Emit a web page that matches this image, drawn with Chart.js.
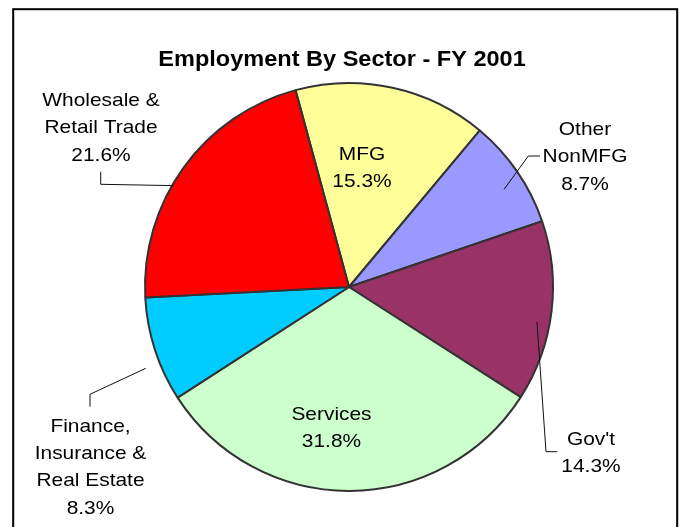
<!DOCTYPE html>
<html>
<head>
<meta charset="utf-8">
<title>Employment By Sector - FY 2001</title>
<script src="https://cdn.jsdelivr.net/npm/chart.js@4/dist/chart.umd.min.js"></script>
<style>
  html, body { margin: 0; padding: 0; background: #ffffff; }
  #wrap { width: 683px; height: 527px; }
</style>
</head>
<body>
<div id="wrap"><canvas id="chart" width="683" height="527"></canvas></div>
<script>
// Sector shares of employment, FY 2001 (percent)
const sectors = ["MFG", "Other NonMFG", "Gov't", "Services", "Finance, Insurance & Real Estate", "Wholesale & Retail Trade"];
const shares = [15.3, 8.7, 14.3, 31.8, 8.3, 21.6];
const sliceColors = ["#FFFF99", "#9999FF", "#993366", "#CCFFCC", "#00CCFF", "#FF0000"];

// How each sector's name is broken over lines in its label
const labelLines = [
  ["MFG"],
  ["Other", "NonMFG"],
  ["Gov't"],
  ["Services"],
  ["Finance,", "Insurance &", "Real Estate"],
  ["Wholesale &", "Retail Trade"]
];

// Label placement relative to the pie centre: first baseline offset,
// plus an optional leader (two label-side points, then a polar anchor on the slice)
const labelPlacement = [
  { dx: 13,     dy: -127 },
  { dx: 236,    dy: -152, leader: [[191, -131], [179.3, -131]], anchor: { deg: 57.8,  r: 0.898 } },
  { dx: 242,    dy: 158,  leader: [[208.3, 164.7], [197, 164.7]], anchor: { deg: 100.5, r: 0.937 } },
  { dx: -17.5,  dy: 133 },
  { dx: -258.5, dy: 144.7, leader: [[-259, 119.7], [-259, 107.3]], anchor: { deg: 248.2, r: 1.073 } },
  { dx: -248,   dy: -181, leader: [[-248.3, -115.3], [-248.3, -102.7]], anchor: { deg: 300.0, r: 0.994 } }
];

const TITLE = "Employment By Sector - FY 2001";
const FONT = '"Liberation Sans", Arial, Helvetica, sans-serif';
const STRETCH = 1.1;      // text is set slightly wide
const LINE_GAP = 27.3;

function wideText(ctx, text, x, y, font) {
  ctx.save();
  ctx.font = font;
  ctx.textAlign = "center";
  ctx.textBaseline = "alphabetic";
  ctx.translate(x, y);
  ctx.scale(STRETCH, 1);
  ctx.fillText(text, 0, 0);
  ctx.restore();
}

const framePlugin = {
  id: "frameAndLabels",
  beforeDraw(chart) {
    const ctx = chart.ctx;
    ctx.save();
    ctx.fillStyle = "#ffffff";
    ctx.fillRect(0, 0, chart.width, chart.height);
    ctx.strokeStyle = "#000000";
    ctx.lineWidth = 2;
    ctx.strokeRect(13.2, 9.2, 664, 540);
    ctx.restore();
  },
  afterDatasetsDraw(chart) {
    const ctx = chart.ctx;
    const arcs = chart.getDatasetMeta(0).data;
    const cx = arcs[0].x, cy = arcs[0].y, R = arcs[0].outerRadius;

    // leader lines
    ctx.save();
    ctx.strokeStyle = "#111111";
    ctx.lineWidth = 1;
    labelPlacement.forEach(p => {
      if (!p.leader) return;
      const a = (p.anchor.deg - 90) * Math.PI / 180;
      ctx.beginPath();
      ctx.moveTo(cx + p.leader[0][0], cy + p.leader[0][1]);
      ctx.lineTo(cx + p.leader[1][0], cy + p.leader[1][1]);
      ctx.lineTo(cx + Math.cos(a) * R * p.anchor.r, cy + Math.sin(a) * R * p.anchor.r);
      ctx.stroke();
    });
    ctx.restore();

    // category names and percentages
    ctx.save();
    ctx.fillStyle = "#000000";
    const font = "19px " + FONT;
    shares.forEach((v, i) => {
      const p = labelPlacement[i];
      const lines = labelLines[i].concat([v.toFixed(1) + "%"]);
      lines.forEach((t, k) => wideText(ctx, t, cx + p.dx, cy + p.dy + k * LINE_GAP, font));
    });
    ctx.restore();

    // title
    ctx.save();
    ctx.fillStyle = "#000000";
    wideText(ctx, TITLE, 342, 66, "bold 21.4px " + FONT);
    ctx.restore();
  }
};

new Chart(document.getElementById("chart"), {
  type: "pie",
  data: {
    labels: sectors,
    datasets: [{
      data: shares,
      backgroundColor: sliceColors,
      borderColor: "#333333",
      borderWidth: 2
    }]
  },
  options: {
    responsive: false,
    animation: false,
    rotation: -15.2,
    radius: 204,
    layout: { padding: { left: 15, right: 0, top: 60, bottom: 13 } },
    plugins: {
      legend: { display: false },
      title: { display: false },
      tooltip: { enabled: false }
    }
  },
  plugins: [framePlugin]
});
</script>
</body>
</html>
